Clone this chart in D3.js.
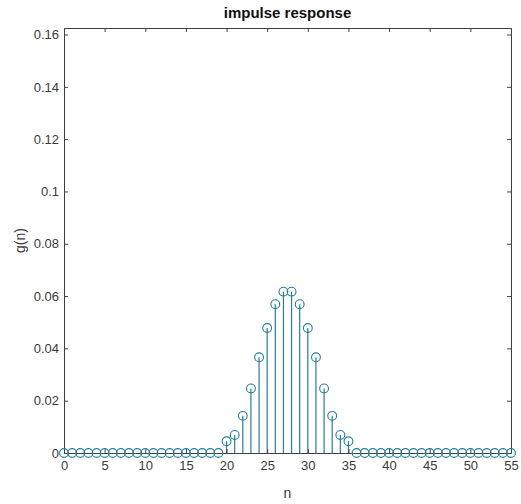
<!DOCTYPE html>
<html>
<head>
<meta charset="utf-8">
<script src="https://cdn.jsdelivr.net/npm/d3@7"></script>
<style>
  body { margin: 0; background: #fff; }
  text { font-family: "Liberation Sans", Arial, sans-serif; }
</style>
</head>
<body>
<svg id="chart" width="521" height="504"></svg>
<script>
// impulse response samples g(n), n = 0..55
const nValues = d3.range(0, 56);
const gNonZero = {
  20: 0.0045, 21: 0.0069, 22: 0.0142, 23: 0.0247, 24: 0.0366, 25: 0.0478,
  26: 0.0569, 27: 0.0617, 28: 0.0617, 29: 0.0569, 30: 0.0478, 31: 0.0366,
  32: 0.0247, 33: 0.0142, 34: 0.0069, 35: 0.0045
};
const gValues = nValues.map(n => gNonZero[n] || 0);
const xTicks = [0, 5, 10, 15, 20, 25, 30, 35, 40, 45, 50, 55];
const yTicks = [0, 0.02, 0.04, 0.06, 0.08, 0.1, 0.12, 0.14, 0.16];

const svg = d3.select('#chart');
const margin = {top: 28, right: 10, bottom: 51, left: 64};
const width = 521 - margin.left - margin.right;
const height = 504 - margin.top - margin.bottom;
const stemColor = '#237f9f';
const axisColor = '#404040';

const g = svg.append('g')
    .attr('transform', `translate(${margin.left},${margin.top})`);

const x = d3.scaleLinear().domain([0, 55]).range([0, width]);
const y = d3.scaleLinear().domain([0, 0.1625]).range([height, 0]);

// stems
g.selectAll('.stem')
    .data(nValues)
    .join('line')
    .attr('class', 'stem')
    .attr('x1', d => x(d)).attr('x2', d => x(d))
    .attr('y1', y(0)).attr('y2', (d, i) => y(gValues[i]))
    .attr('stroke', stemColor)
    .attr('stroke-width', 1.2);

// axes (ticks inward, box on)
const tickLen = 4;
const xAxis = g.append('g')
    .attr('transform', `translate(0,${height})`)
    .call(d3.axisBottom(x).tickValues(xTicks).tickSizeInner(-tickLen).tickSizeOuter(0).tickPadding(8));
const yAxis = g.append('g')
    .call(d3.axisLeft(y).tickValues(yTicks).tickFormat(d => d3.format('')(+d.toFixed(2))).tickSizeInner(-tickLen).tickSizeOuter(0).tickPadding(5));
const xTop = g.append('g')
    .call(d3.axisTop(x).tickValues(xTicks).tickSizeInner(-tickLen).tickSizeOuter(0).tickFormat(''));
const yRight = g.append('g')
    .attr('transform', `translate(${width},0)`)
    .call(d3.axisRight(y).tickValues(yTicks).tickSizeInner(-tickLen).tickSizeOuter(0).tickFormat(''));

[xAxis, yAxis, xTop, yRight].forEach(a => {
  a.select('.domain').attr('stroke', axisColor);
  a.selectAll('.tick line').attr('stroke', axisColor);
  a.selectAll('text').attr('fill', '#3a3a3a').attr('font-size', '13px');
});

// markers
g.selectAll('.marker')
    .data(nValues)
    .join('circle')
    .attr('class', 'marker')
    .attr('cx', d => x(d))
    .attr('cy', (d, i) => y(gValues[i]))
    .attr('r', 4.4)
    .attr('fill', 'none')
    .attr('stroke', stemColor)
    .attr('stroke-width', 1.1);

// labels
svg.append('text')
    .attr('x', margin.left + width / 2).attr('y', 18)
    .attr('text-anchor', 'middle')
    .attr('font-size', '15px').attr('font-weight', 'bold')
    .attr('fill', '#111')
    .text('impulse response');
svg.append('text')
    .attr('x', margin.left + width / 2).attr('y', 498)
    .attr('text-anchor', 'middle')
    .attr('font-size', '14px').attr('fill', '#3a3a3a')
    .text('n');
svg.append('text')
    .attr('transform', `translate(25,${margin.top + height / 2}) rotate(-90)`)
    .attr('text-anchor', 'middle')
    .attr('font-size', '14px').attr('fill', '#3a3a3a')
    .text('g(n)');
</script>
</body>
</html>
